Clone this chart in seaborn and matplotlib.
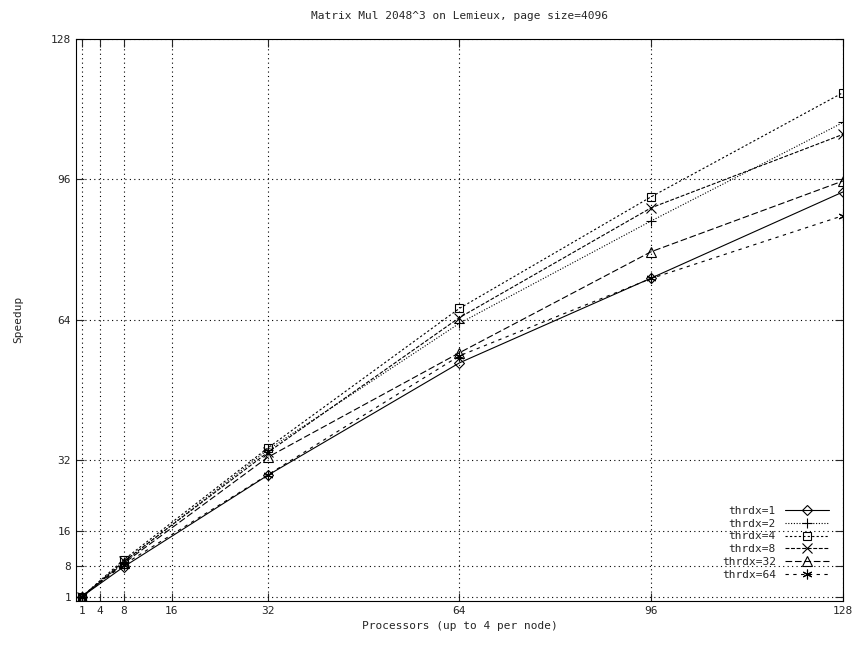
import matplotlib
matplotlib.use("Agg")
import matplotlib.pyplot as plt
import seaborn as sns
import pandas as pd

# processors and measured speedup per thread setting
procs = [1, 8, 32, 64, 96, 128]
thrdx_1 = [1, 7.8, 28.6, 54.2, 73.5, 93.1]
thrdx_2 = [1, 8.8, 34.4, 63.2, 86.5, 108.9]
thrdx_4 = [1, 9.4, 34.8, 66.6, 92.0, 115.7]
thrdx_8 = [1, 9.0, 33.8, 64.5, 89.5, 106.2]
thrdx_32 = [1, 8.6, 32.7, 56.5, 79.5, 95.6]
thrdx_64 = [1, 8.3, 28.7, 55.8, 73.4, 87.7]

xticks = [1, 4, 8, 16, 32, 64, 96, 128]
yticks = [1, 8, 16, 32, 64, 96, 128]

series = [
    ("thrdx=1", thrdx_1, "-", "D", 5),
    ("thrdx=2", thrdx_2, (0, (1, 1.5)), "+", 7),
    ("thrdx=4", thrdx_4, (0, (2, 2)), "s", 6),
    ("thrdx=8", thrdx_8, (0, (3.5, 1.5)), "x", 7),
    ("thrdx=32", thrdx_32, (0, (6, 2.5)), "^", 7),
    ("thrdx=64", thrdx_64, (0, (3, 4)), (6, 2, 0), 7),
]

sns.set_style("ticks")
plt.rcParams["font.family"] = ["DejaVu Sans Mono"]
plt.rcParams["font.size"] = 8

fig = plt.figure(figsize=(8.62, 6.48), dpi=100)
ax = fig.add_axes([0.088, 0.0725, 0.89, 0.868])

for name, vals, ls, mk, ms in series:
    df = pd.DataFrame({"p": procs, "s": vals})
    sns.lineplot(data=df, x="p", y="s", ax=ax, color="black", linewidth=0.8,
                 marker=mk, markersize=ms,
                 markerfacecolor="none", markeredgecolor="black",
                 markeredgewidth=0.8, label=name)
    ax.lines[-1].set_linestyle(ls)

ax.set_xlim(0, 128)
ax.set_ylim(0, 128)
ax.set_xticks(xticks)
ax.set_yticks(yticks)
ax.grid(True, color="black", linestyle=(0, (1, 3)), linewidth=0.8)
ax.tick_params(direction="in", top=True, right=True, length=6, width=0.8)
for s in ax.spines.values():
    s.set_linewidth(0.8)
    s.set_color("black")

ax.set_title("Matrix Mul 2048^3 on Lemieux, page size=4096", fontsize=8, pad=14)
ax.set_xlabel("Processors (up to 4 per node)", fontsize=8)
ax.set_ylabel("Speedup", fontsize=8, labelpad=20)

leg = ax.legend(loc="lower right", frameon=False, markerfirst=False,
                handlelength=4, labelspacing=0.25, fontsize=8,
                bbox_to_anchor=(0.995, 0.02))
for t in leg.get_texts():
    t.set_ha("right")

fig.savefig("out.png", dpi=100)
